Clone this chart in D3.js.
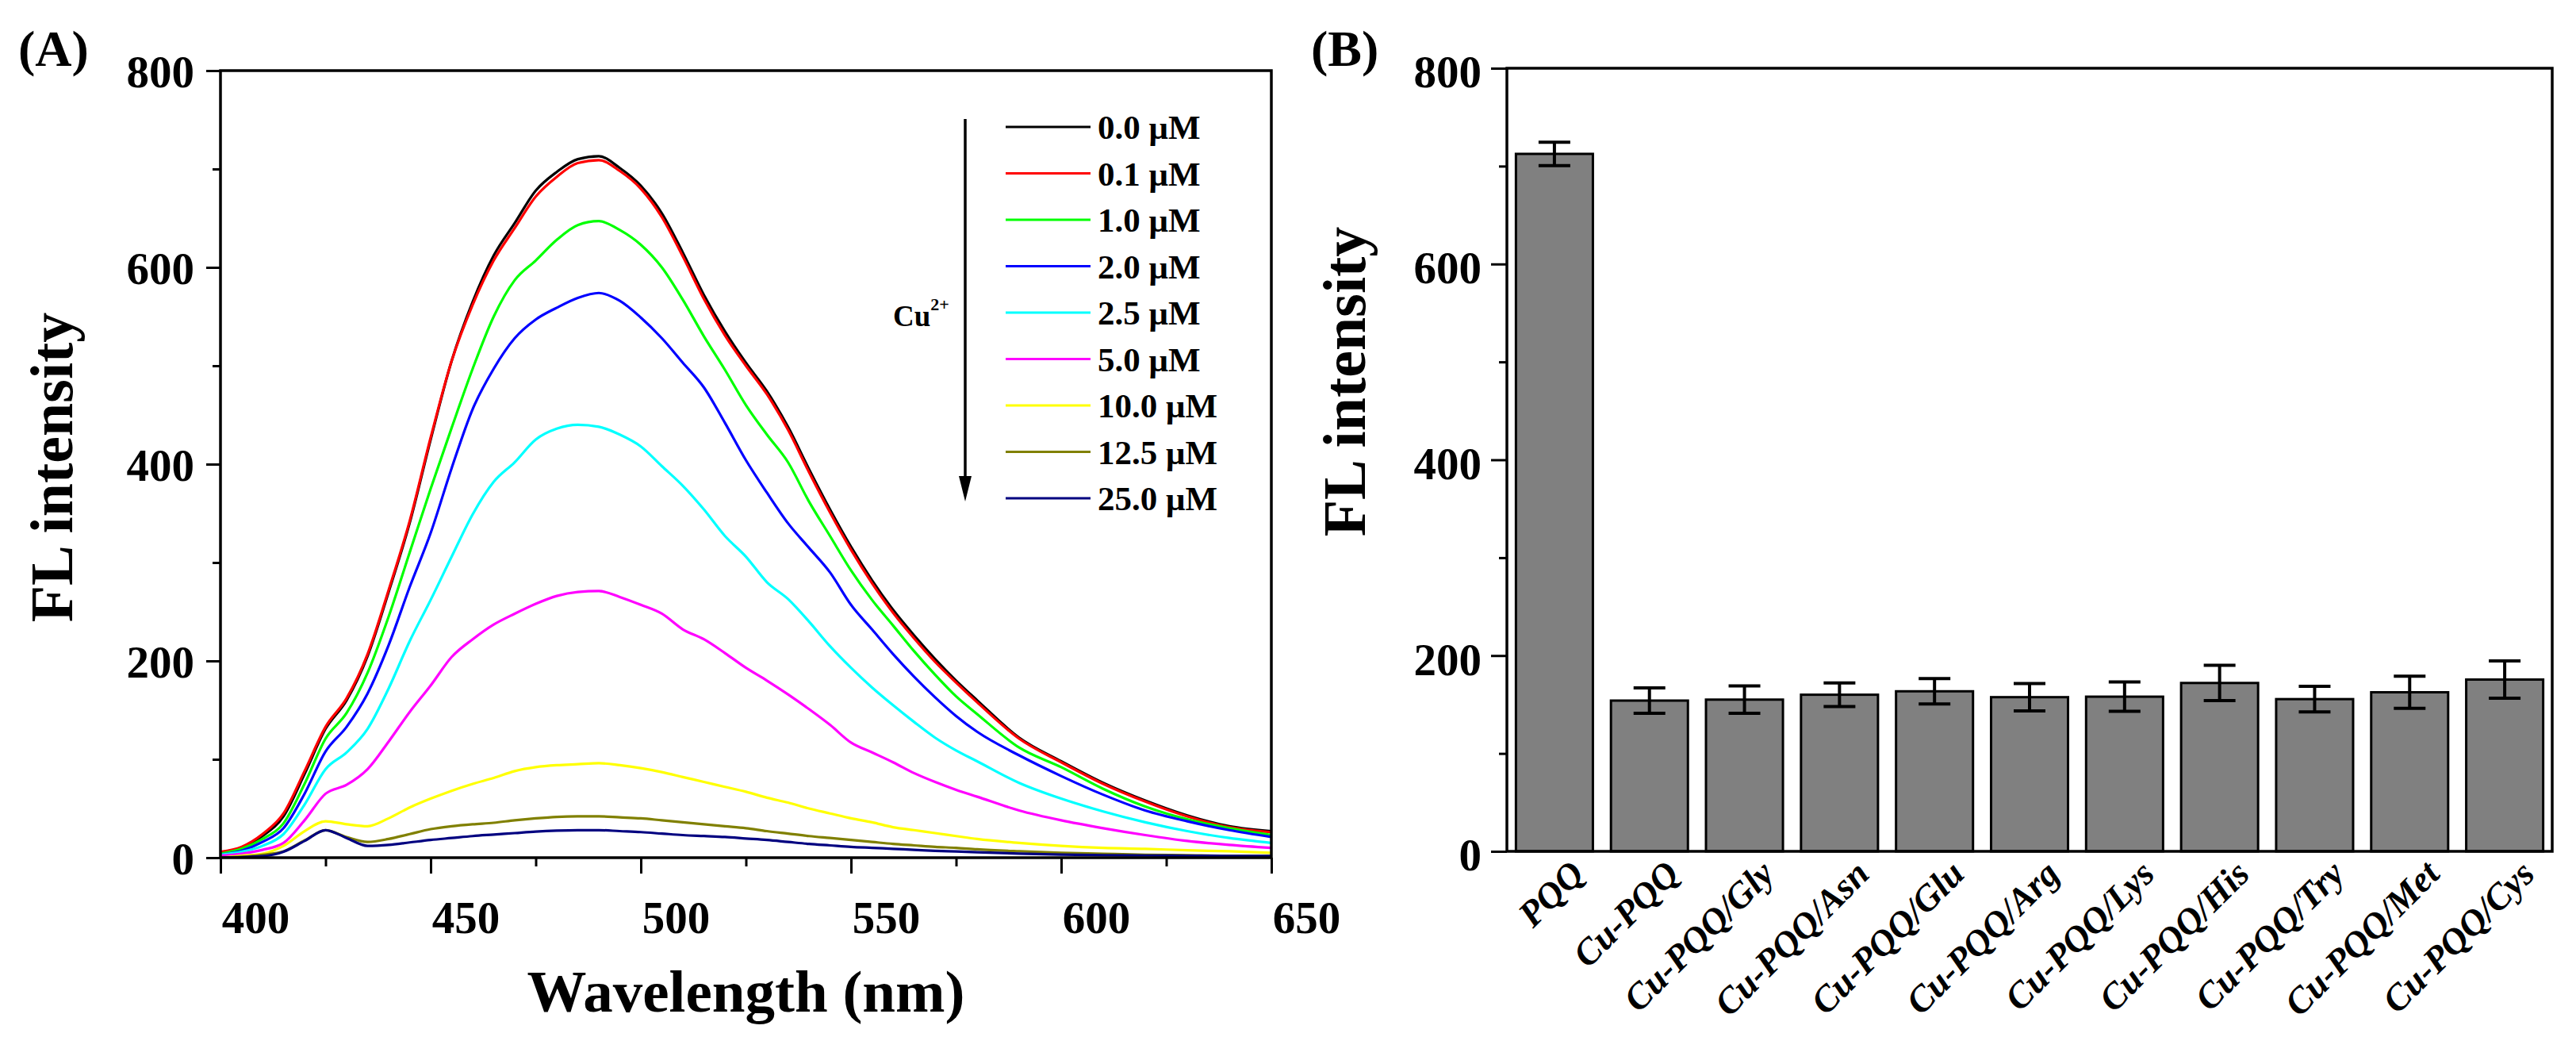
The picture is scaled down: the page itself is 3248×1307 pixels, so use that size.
<!DOCTYPE html>
<html><head><meta charset="utf-8">
<script src="https://cdn.jsdelivr.net/npm/d3@7/dist/d3.min.js"></script>
<style>
body{margin:0;background:#fff}
svg text{font-family:"Liberation Serif","Times New Roman",serif;font-weight:bold;fill:#000}
</style>
</head><body>
<svg id="chart" width="3248" height="1307"></svg>
<script>
// ---------- Panel A data ----------
const wavelength = [400,405,410,415,420,425,430,435,440,445,450,455,460,465,470,475,480,485,490,495,500,505,510,515,520,525,530,535,540,545,550,555,560,565,570,575,580,590,600,610,620,630,640,650];
const cu0_0  = [5,10,22,42,85,131,160,205,270,340,425,505,565,612,645,678,697,710,713,701,683,655,615,572,535,503,474,438,395,354,316,282,252,226,202,180,160,122,98,76,58,43,32,27];
const cu0_1  = [6,11,24,45,88,133,162,207,272,342,427,505,562,607,640,672,692,706,709,698,680,651,611,568,531,500,471,435,392,351,313,279,249,223,199,178,158,121,97,75,57,42,31,26];
const cu1_0  = [4,9,19,35,75,121,147,188,245,310,375,437,497,550,587,607,628,643,647,638,623,600,567,530,496,460,430,402,362,327,292,262,236,210,186,164,146,112,92,70,52,39,30,23];
const cu2_0  = [3,7,16,30,65,108,133,167,216,275,330,396,456,497,528,547,559,569,574,566,549,528,503,478,442,404,371,340,315,290,257,232,207,184,163,144,128,104,83,64,48,37,28,21];
const cu2_5  = [3,6,12,24,54,90,107,131,172,220,262,306,349,382,402,425,436,440,438,430,418,398,378,354,327,306,280,263,240,215,193,173,155,138,122,109,98,76,60,47,36,27,20,15];
const cu5_0  = [2,4,8,15,38,65,74,90,118,148,175,204,222,237,248,258,266,270,271,265,257,248,232,222,208,193,180,166,151,135,117,107,97,86,77,69,62,48,38,30,23,17,13,10];
const cu10_0 = [0,2,4,12,27,37,34,32,40,51,60,68,75,81,88,92,94,95,96,94,91,87,82,77,72,67,61,56,50,45,40,36,31,28,25,22,19,15,12,10,9,7.5,6.5,5];
const cu12_5 = [0,1,3,6.5,17.5,28,21,16,19,24,29,32,34,35.5,38,40,41.5,42,42,41,40,38,36,34,32,30,27,24.5,22,20,18,16,14,12.5,11,10,8.5,6.5,5,4,3,2.5,2,2];
const cu25_0 = [0,0.5,1.5,6,17,28,20,12,13,15.5,18,20,22,23.5,25,26.5,27.5,28,28,27,26,24.5,23,22,21,19.5,18,16,14,12.5,11,10,9,8,7,6.3,5.5,4.2,3.2,2.6,2.2,2,1.8,1.7];
const seriesA = [cu0_0, cu0_1, cu1_0, cu2_0, cu2_5, cu5_0, cu10_0, cu12_5, cu25_0];
const legendLabels = ["0.0 μM","0.1 μM","1.0 μM","2.0 μM","2.5 μM","5.0 μM","10.0 μM","12.5 μM","25.0 μM"];
const xTicksA = [400,450,500,550,600,650];
const xMinorA = [425,475,525,575,625];
const yTicks = [0,200,400,600,800];
const yMinor = [100,300,500,700];

// ---------- Panel B data ----------
const categories = ["PQQ","Cu-PQQ","Cu-PQQ/Gly","Cu-PQQ/Asn","Cu-PQQ/Glu","Cu-PQQ/Arg","Cu-PQQ/Lys","Cu-PQQ/His","Cu-PQQ/Try","Cu-PQQ/Met","Cu-PQQ/Cys"];
const intensities = [712.5,154,155,160,163.5,157.5,158,172,155.5,162.5,175.5];
const errors = [12,13,14,12,13,14,15,18,13,16.5,19];

// ---------- styles ----------
const lineColors = ["#000000","#ff0000","#00ff00","#0000ff","#00ffff","#ff00ff","#ffff00","#808000","#000080"];

const svg = d3.select("#chart");
svg.append("rect").attr("width",3248).attr("height",1307).attr("fill","#fff");

function styleAxis(g, fontSize){
  g.attr("font-family", null).attr("font-size", null);
  g.select(".domain").remove();
  g.selectAll(".tick line").attr("stroke","#000").attr("stroke-width",3);
  g.selectAll(".tick text").style("font-size", fontSize + "px");
}

// ================= Panel A =================
const A = {l:278, r:1603, t:89, b:1081};
const xA = d3.scaleLinear().domain([400,650]).range([A.l, A.r]);
const yA = d3.scaleLinear().domain([0,800]).range([A.b, A.t]);

svg.append("clipPath").attr("id","clipA").append("rect")
  .attr("x",A.l).attr("y",A.t).attr("width",A.r-A.l).attr("height",A.b-A.t);

const line = d3.line().x((d,i)=>xA(wavelength[i])).y(d=>yA(d)).curve(d3.curveMonotoneX);
const gLines = svg.append("g").attr("clip-path","url(#clipA)");
seriesA.forEach((s,i)=>{
  gLines.append("path").datum(s).attr("d",line)
    .attr("fill","none").attr("stroke",lineColors[i]).attr("stroke-width",3.2)
    .attr("stroke-linejoin","round");
});

// axes A
const gxA = svg.append("g").attr("transform",`translate(0,${A.b})`)
  .call(d3.axisBottom(xA).tickValues(xTicksA).tickFormat(d3.format("d")).tickSize(20).tickPadding(35).tickSizeOuter(0));
styleAxis(gxA, 57);
gxA.selectAll(".tick text").attr("x", 44);
const gxAm = svg.append("g").attr("transform",`translate(0,${A.b})`)
  .call(d3.axisBottom(xA).tickValues(xMinorA).tickFormat("").tickSize(11).tickSizeOuter(0));
styleAxis(gxAm, 10);

const gyA = svg.append("g").attr("transform",`translate(${A.l},0)`)
  .call(d3.axisLeft(yA).tickValues(yTicks).tickFormat(d3.format("d")).tickSize(18).tickPadding(15).tickSizeOuter(0));
styleAxis(gyA, 57);
gyA.selectAll(".tick text").attr("dy","0.36em");
const gyAm = svg.append("g").attr("transform",`translate(${A.l},0)`)
  .call(d3.axisLeft(yA).tickValues(yMinor).tickFormat("").tickSize(10).tickSizeOuter(0));
styleAxis(gyAm, 10);

svg.append("rect").attr("x",A.l).attr("y",A.t).attr("width",A.r-A.l).attr("height",A.b-A.t)
  .attr("fill","none").attr("stroke","#000").attr("stroke-width",3.5);

svg.append("text").attr("x",(A.l+A.r)/2).attr("y",1275).attr("text-anchor","middle")
  .style("font-size","75px").text("Wavelength (nm)");
svg.append("text").attr("transform","translate(91,589) rotate(-90)").attr("text-anchor","middle")
  .style("font-size","76px").text("FL intensity");
svg.append("text").attr("x",23).attr("y",83).style("font-size","64px").text("(A)");

// legend A
const legY = d3.scaleLinear().domain([0,8]).range([160,628]);
const gLeg = svg.append("g");
legendLabels.forEach((lab,i)=>{
  gLeg.append("line").attr("x1",1268).attr("x2",1375).attr("y1",legY(i)).attr("y2",legY(i))
    .attr("stroke",lineColors[i]).attr("stroke-width",3.2);
  gLeg.append("text").attr("x",1384).attr("y",legY(i)).attr("dy","0.35em")
    .style("font-size","43px").text(lab);
});
// arrow
svg.append("line").attr("x1",1217).attr("x2",1217).attr("y1",150).attr("y2",606)
  .attr("stroke","#000").attr("stroke-width",3.5);
svg.append("path").attr("d","M1209,600 L1225,600 L1217,632 Z").attr("fill","#000");
const cuT = svg.append("text").attr("x",1126).attr("y",411).style("font-size","37px");
cuT.append("tspan").text("Cu");
cuT.append("tspan").attr("dy",-20).style("font-size","22px").text("2+");

// ================= Panel B =================
const B = {l:1900, r:3218, t:86, b:1073};
const xB = d3.scaleBand().domain(categories).range([B.l, B.r]).paddingInner(0.19).paddingOuter(0.095);
const yB = d3.scaleLinear().domain([0,800]).range([B.b, B.t]);

const gBars = svg.append("g");
categories.forEach((c,i)=>{
  gBars.append("rect").attr("x",xB(c)).attr("y",yB(intensities[i]))
    .attr("width",xB.bandwidth()).attr("height",yB(0)-yB(intensities[i]))
    .attr("fill","#808080").attr("stroke","#000").attr("stroke-width",3);
});
const gErr = svg.append("g").attr("stroke","#000").attr("stroke-width",4);
categories.forEach((c,i)=>{
  const cx = xB(c) + xB.bandwidth()/2;
  const hi = yB(intensities[i]+errors[i]), lo = yB(intensities[i]-errors[i]);
  gErr.append("line").attr("x1",cx).attr("x2",cx).attr("y1",hi).attr("y2",lo);
  gErr.append("line").attr("x1",cx-20).attr("x2",cx+20).attr("y1",hi).attr("y2",hi);
  gErr.append("line").attr("x1",cx-20).attr("x2",cx+20).attr("y1",lo).attr("y2",lo);
});

const gyB = svg.append("g").attr("transform",`translate(${B.l},0)`)
  .call(d3.axisLeft(yB).tickValues(yTicks).tickFormat(d3.format("d")).tickSize(20).tickPadding(12).tickSizeOuter(0));
styleAxis(gyB, 57);
gyB.selectAll(".tick text").attr("dy","0.42em");
const gyBm = svg.append("g").attr("transform",`translate(${B.l},0)`)
  .call(d3.axisLeft(yB).tickValues(yMinor).tickFormat("").tickSize(10).tickSizeOuter(0));
styleAxis(gyBm, 10);

svg.append("rect").attr("x",B.l).attr("y",B.t).attr("width",B.r-B.l).attr("height",B.b-B.t)
  .attr("fill","none").attr("stroke","#000").attr("stroke-width",3.5);

const gLab = svg.append("g");
categories.forEach(c=>{
  const cx = xB(c) + xB.bandwidth()/2;
  gLab.append("text").attr("transform",`translate(${cx+40},1104) rotate(-45)`)
    .attr("text-anchor","end").style("font-size","46px").style("font-style","italic").text(c);
});

svg.append("text").attr("transform","translate(1721,481) rotate(-90)").attr("text-anchor","middle")
  .style("font-size","76px").text("FL intensity");
svg.append("text").attr("x",1653).attr("y",83).style("font-size","64px").text("(B)");
</script>
</body></html>
